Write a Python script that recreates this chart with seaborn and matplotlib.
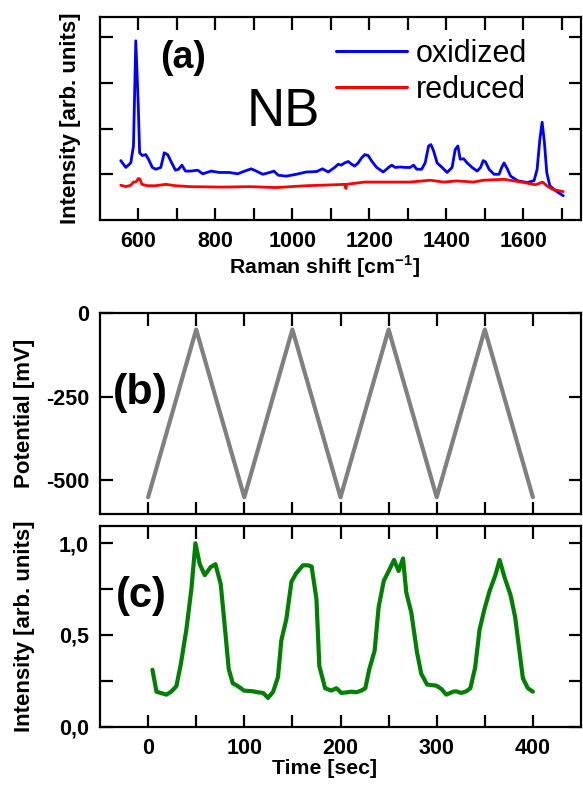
import numpy as np
import pandas as pd
import matplotlib
matplotlib.use("Agg")
import matplotlib.pyplot as plt
import seaborn as sns

# ---- (a) Raman spectra of NB ----
shift_ox = [554, 567, 580, 587, 593, 599, 603, 610, 619, 626, 636, 645, 658, 667, 676, 684,
            696, 704, 713, 722, 736, 754, 767, 789, 810, 836, 858, 876, 893, 906, 923, 941,
            952, 963, 984, 1010, 1036, 1063, 1078, 1093, 1110, 1119, 1127, 1136, 1145, 1154,
            1162, 1171, 1180, 1188, 1197, 1206, 1219, 1236, 1250, 1258, 1267, 1280, 1293, 1306,
            1315, 1323, 1336, 1345, 1354, 1360, 1367, 1376, 1389, 1402, 1415, 1423, 1430, 1436,
            1445, 1454, 1467, 1480, 1489, 1496, 1502, 1511, 1524, 1537, 1544, 1550, 1559, 1567,
            1585, 1610, 1628, 1636, 1643, 1649, 1655, 1661, 1669, 1684, 1704]
int_ox = [1.30, 1.15, 1.25, 1.62, 3.92, 2.63, 1.47, 1.41, 1.43, 1.33, 1.15, 1.11, 1.15, 1.47, 1.43, 1.29,
          1.09, 1.11, 1.20, 1.07, 1.07, 1.09, 1.01, 1.07, 1.04, 1.04, 1.01, 1.07, 1.12, 1.07, 1.00, 1.04,
          1.07, 0.98, 0.96, 1.00, 1.05, 1.06, 1.12, 1.05, 1.15, 1.22, 1.20, 1.25, 1.28, 1.22,
          1.18, 1.25, 1.36, 1.43, 1.41, 1.29, 1.15, 1.05, 1.15, 1.20, 1.15, 1.16, 1.15, 1.15,
          1.20, 1.11, 1.11, 1.25, 1.62, 1.65, 1.51, 1.25, 1.15, 1.04, 1.15, 1.54, 1.62, 1.33,
          1.34, 1.25, 1.15, 1.07, 1.15, 1.30, 1.27, 1.11, 1.00, 1.00, 1.15, 1.25, 1.11, 0.96,
          0.86, 0.82, 0.86, 1.11, 1.76, 2.14, 1.69, 1.04, 0.75, 0.64, 0.53]

shift_red = [554, 567, 580, 587, 593, 600, 604, 609, 623, 645, 671, 697, 732, 819, 889, 958,
             1036, 1106, 1137, 1139, 1141, 1187, 1250, 1306, 1358, 1393, 1428, 1471, 1496, 1550,
             1576, 1602, 1632, 1650, 1661, 1676, 1704]
int_red = [0.76, 0.73, 0.76, 0.83, 0.83, 0.91, 0.89, 0.78, 0.75, 0.75, 0.78, 0.75, 0.73, 0.72, 0.73, 0.71,
           0.75, 0.77, 0.78, 0.69, 0.78, 0.83, 0.83, 0.83, 0.87, 0.83, 0.855, 0.83, 0.87, 0.89,
           0.855, 0.82, 0.77, 0.83, 0.75, 0.67, 0.62]

# ---- (b) applied potential sweep ----
sweep_time = [0, 50, 100, 150, 200, 250, 300, 350, 400]
sweep_potential = [-550, -50, -550, -50, -550, -50, -550, -50, -550]

# ---- (c) Raman band intensity vs time ----
band_time = [4.5, 8.7, 19, 24, 29.4, 34, 39.8, 45, 49.2, 53.7, 58.9, 65, 70, 75.5, 80, 83.8, 88, 94,
             99.7, 109, 114, 119.5, 124.7, 130, 135, 138.5, 143.7, 149, 154, 161, 166, 170, 175,
             178, 184, 190.5, 195.7, 200.9, 207.8, 211, 216.5, 221.6, 225.8, 230, 235.5, 239.6,
             245, 251, 255.6, 260.4, 265, 268.4, 273.6, 279.5, 284, 290, 299.6, 304.8, 310, 317,
             320.3, 325.5, 330.7, 335, 340, 344.6, 349.8, 355, 361, 365.4, 370.6, 376.8, 381.6,
             389.6, 394.8, 400]
band_intensity = [0.31, 0.19, 0.174, 0.19, 0.22, 0.34, 0.53, 0.75, 1.0, 0.886, 0.826, 0.87, 0.886, 0.777,
                  0.53, 0.314, 0.236, 0.218, 0.196, 0.192, 0.187, 0.183, 0.156, 0.19, 0.27, 0.47, 0.586,
                  0.79, 0.837, 0.88, 0.88, 0.873, 0.695, 0.33, 0.209, 0.196, 0.209, 0.183, 0.187, 0.19,
                  0.187, 0.196, 0.209, 0.314, 0.414, 0.65, 0.795, 0.858, 0.909, 0.849, 0.917, 0.731,
                  0.622, 0.405, 0.287, 0.229, 0.223, 0.205, 0.174, 0.19, 0.192, 0.183, 0.192, 0.209,
                  0.323, 0.53, 0.644, 0.74, 0.826, 0.909, 0.813, 0.717, 0.595, 0.263, 0.209, 0.19]

# ---- tick definitions ----
raman_ticks = [600, 700, 800, 900, 1000, 1100, 1200, 1300, 1400, 1500, 1600, 1700]
raman_labels = ["600", "", "800", "", "1000", "", "1200", "", "1400", "", "1600", ""]
spec_yticks = [1, 2, 3, 4]
time_ticks = [0, 50, 100, 150, 200, 250, 300, 350, 400]
time_labels = ["0", "", "100", "", "200", "", "300", "", "400"]
pot_ticks = [0, -250, -500]
pot_labels = ["0", "-250", "-500"]
int_ticks = [0.0, 0.25, 0.5, 0.75, 1.0]
int_labels = ["0,0", "", "0,5", "", "1,0"]

sns.set_style("ticks")
plt.rcParams["font.family"] = ["Liberation Sans", "DejaVu Sans"]
plt.rcParams["axes.linewidth"] = 1.6
plt.rcParams["text.color"] = "black"
plt.rcParams["axes.labelcolor"] = "black"
plt.rcParams["xtick.color"] = "black"
plt.rcParams["ytick.color"] = "black"
plt.rcParams["axes.edgecolor"] = "black"
plt.rcParams["mathtext.fontset"] = "custom"
plt.rcParams["mathtext.rm"] = "Liberation Sans"
plt.rcParams["mathtext.bf"] = "Liberation Sans:bold"

W, H = 583, 785
fig = plt.figure(figsize=(W / 100, H / 100), dpi=100)

def box(l, t, r, b):
    return [l / W, 1 - b / H, (r - l) / W, (b - t) / H]

ax_a = fig.add_axes(box(100, 17.5, 581, 220))
ax_b = fig.add_axes(box(100, 312.7, 581, 514))
ax_c = fig.add_axes(box(100, 525.7, 581, 726.5))

tick_fs = 15.5
xlab_fs = 15.3
ylab_fs = 16
for ax in (ax_a, ax_b, ax_c):
    ax.tick_params(direction="in", length=9, width=1.6, top=True, right=True,
                   labelsize=tick_fs, pad=8)
    for s in ax.spines.values():
        s.set_visible(True)
        s.set_color("black")

# (a)
df_ox = pd.DataFrame({"shift": shift_ox, "intensity": int_ox})
df_red = pd.DataFrame({"shift": shift_red, "intensity": int_red})
sns.lineplot(data=df_ox, x="shift", y="intensity", ax=ax_a, color="#0000ff", lw=2.0,
             sort=False, estimator=None, label="oxidized")
sns.lineplot(data=df_red, x="shift", y="intensity", ax=ax_a, color="#ff0000", lw=2.0,
             sort=False, estimator=None, label="reduced")
ax_a.set_xlim(500, 1750)
ax_a.set_ylim(0, 4.43)
ax_a.set_xticks(raman_ticks)
ax_a.set_xticklabels(raman_labels, fontweight="bold", fontsize=tick_fs)
ax_a.set_yticks(spec_yticks)
ax_a.set_yticklabels([])
ax_a.set_xlabel(r"Raman shift [cm$^{\mathbf{-1}}$]", fontsize=xlab_fs, fontweight="bold")
ax_a.xaxis.set_label_coords(0.466, -0.165)
ax_a.set_ylabel("Intensity [arb. units]", fontsize=ylab_fs, fontweight="bold")
ax_a.yaxis.set_label_coords(-0.04, 0.5)
leg = ax_a.legend(loc="upper right", bbox_to_anchor=(0.945, 1.03), frameon=False,
                  fontsize=22, handlelength=2.3, handletextpad=0.3, labelspacing=0.2)
for ln in leg.get_lines():
    ln.set_linewidth(2.2)
ax_a.text(0.125, 0.80, "(a)", transform=ax_a.transAxes, fontsize=27, fontweight="bold",
          ha="left", va="center")
ax_a.text(0.305, 0.535, "NB", transform=ax_a.transAxes, fontsize=38, ha="left", va="center")

# (b)
df_b = pd.DataFrame({"time": sweep_time, "potential": sweep_potential})
sns.lineplot(data=df_b, x="time", y="potential", ax=ax_b, color="#808080", lw=3.0,
             sort=False, estimator=None)
ax_b.set_xlim(-50, 450)
ax_b.set_ylim(-600, 0)
ax_b.set_xticks(time_ticks)
ax_b.set_xticklabels([])
ax_b.set_yticks(pot_ticks)
ax_b.set_yticklabels(pot_labels, fontweight="bold", fontsize=tick_fs)
ax_b.set_xlabel("")
ax_b.set_ylabel("Potential [mV]", fontsize=ylab_fs, fontweight="bold")
ax_b.yaxis.set_label_coords(-0.135, 0.5)
ax_b.text(0.027, 0.60, "(b)", transform=ax_b.transAxes, fontsize=31, fontweight="bold",
          ha="left", va="center")

# (c)
df_c = pd.DataFrame({"time": band_time, "intensity": band_intensity})
sns.lineplot(data=df_c, x="time", y="intensity", ax=ax_c, color="#008000", lw=3.0,
             sort=False, estimator=None)
ax_c.set_xlim(-50, 450)
ax_c.set_ylim(0, 1.096)
ax_c.set_xticks(time_ticks)
ax_c.set_xticklabels(time_labels, fontweight="bold", fontsize=tick_fs)
ax_c.set_yticks(int_ticks)
ax_c.set_yticklabels(int_labels, fontweight="bold", fontsize=tick_fs)
ax_c.set_xlabel("Time [sec]", fontsize=xlab_fs, fontweight="bold")
ax_c.xaxis.set_label_coords(0.466, -0.163)
ax_c.set_ylabel("Intensity [arb. units]", fontsize=ylab_fs, fontweight="bold")
ax_c.yaxis.set_label_coords(-0.135, 0.5)
ax_c.text(0.034, 0.65, "(c)", transform=ax_c.transAxes, fontsize=30, fontweight="bold",
          ha="left", va="center")

fig.savefig("out.png", dpi=100)
